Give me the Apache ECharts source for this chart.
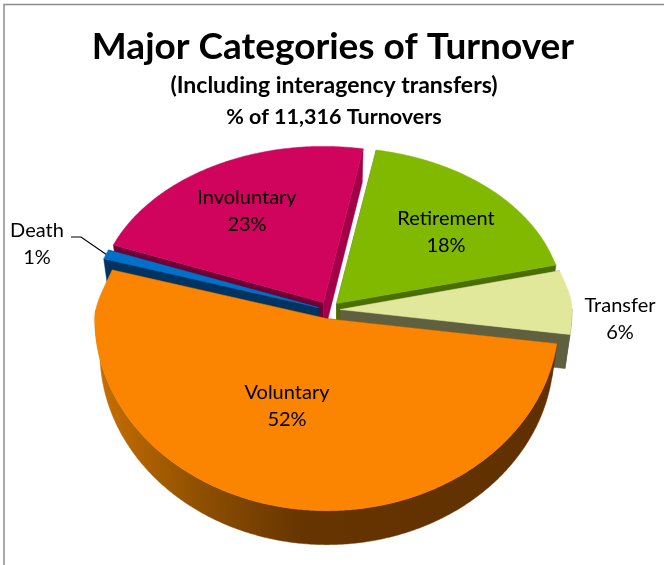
<!DOCTYPE html>
<html>
<head>
<meta charset="utf-8">
<title>Major Categories of Turnover</title>
<style>
  html, body { margin: 0; padding: 0; background: #fff; }
  #chart { width: 664px; height: 565px; }
</style>
</head>
<body>
<div id="chart"></div>
<script src="https://cdn.jsdelivr.net/npm/echarts@6/dist/echarts.min.js"></script>
<script>
// data, clockwise from the start angle
const categories = ['Voluntary', 'Death', 'Involuntary', 'Retirement', 'Transfer']
const values = [52, 1, 23, 18, 6]

// back slices first so the front ones cover their walls
const drawOrder = [2, 3, 1, 4, 0]

const topColors = ['#fb8500', '#0070c8', '#d0045c', '#80b900', '#e2e89b']
const wallColors = ['#603000', '#003360', '#6e0036', '#4a6e00', '#5e6040']
const endWallColors = ['#603000', '#003360', '#a3004a', '#4a6e00', '#5e6040']
const labelSpots = [[287, 406], [37, 244], [247, 211], [446, 232], [620, 319]]

// fake 3d: the far half of the disc is squashed more than the near half,
// and the bottom disc is a little narrower than the top one
const CX = 329
const CY = 310
const RX = 232
const RX_FAR_CUT = 6
const RY_FAR = 156
const RY_NEAR = 192
const BOTTOM_SCALE = 0.978
const DEPTH = 34
const EXPLODE = 11
const START_DEG = 7.5

const total = values.reduce((a, b) => a + b, 0)
const rad = d => d * Math.PI / 180

const sliceAngles = i => {
  let from = START_DEG
  for (let k = 0; k < i; k++) from += values[k] / total * 360
  return [from, from + values[i] / total * 360]
}

// perspective pushes the left edge of the disc round a few degrees
const warp = d => {
  if (d < 195) return d + 3.5 * (d - START_DEG) / 187.5
  if (d < 281) return d + 3.5 - 4.5 * (d - 195) / 86
  return d - 1 + (d - 281) / 86.5
}

const rimPoint = (deg, ox, oy) => {
  const w = warp(deg)
  const s = Math.sin(rad(w))
  const u = Math.min(1, Math.max(0, -s / 0.3))
  const rx = RX - RX_FAR_CUT * u * u * (3 - 2 * u)
  return [ox + rx * Math.cos(rad(w)), oy + (s < 0 ? RY_FAR : RY_NEAR) * s]
}

const arcPoints = (from, to, ox, oy) => {
  const pts = []
  for (let d = from; d < to; d += 0.5) pts.push(rimPoint(d, ox, oy))
  pts.push(rimPoint(to, ox, oy))
  return pts
}

const down = (pts, ox) => pts.map(p => [ox + (p[0] - ox) * BOTTOM_SCALE, p[1] + DEPTH])

const poly = (points, fill) => ({
  type: 'polygon',
  shape: { points },
  style: { fill, stroke: fill, lineWidth: 0.5 }
})

const sideFill = i => {
  if (i !== 0) return wallColors[i]
  return new echarts.graphic.LinearGradient(96, 0, 560, 0, [
    { offset: 0, color: '#c87000' },
    { offset: 0.22, color: '#8f5000' },
    { offset: 0.45, color: '#653400' },
    { offset: 1, color: '#603000' }
  ], true)
}

const renderSlice = (params, api) => {
  const i = api.value(0)
  const [from, to] = sliceAngles(i)
  const mid = rad((from + to) / 2)
  const ox = CX + EXPLODE * Math.cos(mid)
  const oy = CY + EXPLODE * 0.8 * Math.sin(mid)
  const apex = [ox, oy]
  const first = rimPoint(from, ox, oy)
  const last = rimPoint(to, ox, oy)
  const children = []

  children.push(poly([apex, first, ...down([first, apex], ox)], wallColors[i]))
  children.push(poly([apex, last, ...down([last, apex], ox)], endWallColors[i]))

  // outer rim, only the part that faces the viewer
  const rims = [[Math.max(from, 0), Math.min(to, 180)], [360, to]]
  rims.forEach(([lo, hi]) => {
    if (hi <= lo) return
    const rim = arcPoints(lo, hi, ox, oy)
    children.push(poly([...rim, ...down(rim, ox).reverse()], sideFill(i)))
  })

  children.push(poly([apex, ...arcPoints(from, to, ox, oy)], topColors[i]))

  if (categories[i] === 'Death') {
    children.push({
      type: 'polyline',
      shape: { points: [[71, 237], [81, 237], rimPoint((from + to) / 2, ox, oy)] },
      style: { fill: 'none', stroke: '#000', lineWidth: 1.2 }
    })
  }

  children.push({
    type: 'text',
    z2: 50,
    style: {
      text: categories[i] + '\n' + values[i] + '%',
      x: labelSpots[i][0],
      y: labelSpots[i][1],
      align: 'center',
      verticalAlign: 'middle',
      fill: '#000',
      font: '20px Lato, "Open Sans", sans-serif',
      lineHeight: 27
    }
  })

  return { type: 'group', children }
}

const chart = echarts.init(document.getElementById('chart'), null, { renderer: 'canvas' })

const titleFont = 'Lato'

chart.setOption({
  animation: false,
  backgroundColor: '#fff',
  title: [
    {
      text: 'Major Categories of Turnover',
      left: 328, top: 24, textAlign: 'center',
      textStyle: { fontFamily: titleFont, fontWeight: 'bold', fontSize: 37, color: '#000' }
    },
    {
      text: '(Including interagency transfers)',
      left: 329, top: 69, textAlign: 'center',
      textStyle: { fontFamily: titleFont, fontWeight: 'bold', fontSize: 23, color: '#000' }
    },
    {
      text: '% of 11,316 Turnovers',
      left: 329, top: 101, textAlign: 'center',
      textStyle: { fontFamily: titleFont, fontWeight: 'bold', fontSize: 21.5, color: '#000' }
    }
  ],
  graphic: [
    {
      type: 'polyline',
      shape: { points: [[4, 565], [4, 4.5], [664, 4.5]] },
      style: { fill: 'none', stroke: '#8c8c8c', lineWidth: 1.5 }
    }
  ],
  series: [
    {
      type: 'custom',
      coordinateSystem: 'none',
      renderItem: renderSlice,
      data: drawOrder.map(i => [i])
    }
  ]
})

window.addEventListener('resize', () => chart.resize())
</script>
</body>
</html>
